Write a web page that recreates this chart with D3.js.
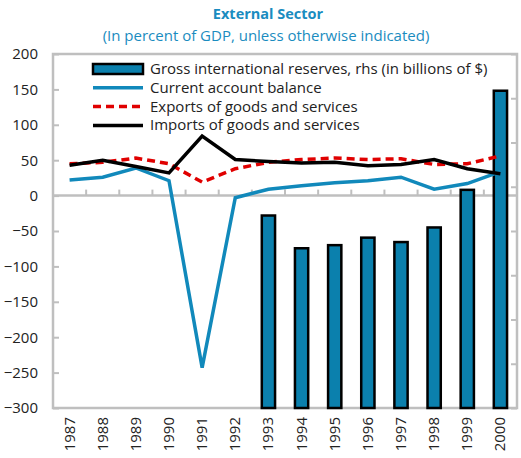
<!DOCTYPE html>
<html>
<head>
<meta charset="utf-8">
<script src="https://cdn.jsdelivr.net/npm/d3@7"></script>
<style>
  body { margin: 0; background: #fff; }
  svg { display: block; font-family: "Open Sans", sans-serif; }
</style>
</head>
<body>
<div id="vis1"></div>
<script>
// data
const YEARS = ["1987","1988","1989","1990","1991","1992","1993","1994","1995","1996","1997","1998","1999","2000"];
const CURRENT_ACCOUNT = [22, 26, 39, 21, -243, -3, 9, 14, 18, 21, 26, 9, 17, 34];
const EXPORTS = [45, 47, 53, 45, 19, 38, 47, 51, 53, 51, 52, 44, 45, 56];
const IMPORTS = [43, 50, 41, 32, 84, 51, 48, 46, 47, 42, 44, 51, 38, 31];
// reserves on the unlabeled right-hand axis (null = no bar)
const RESERVES = [null, null, null, null, null, null, 4.35, 3.61, 3.68, 3.85, 3.75, 4.08, 4.93, 7.17];
const Y_TICKS = [200, 150, 100, 50, 0, -50, -100, -150, -200, -250, -300];
const LEGEND = ["Gross international reserves, rhs (in billions of $)", "Current account balance",
                "Exports of goods and services", "Imports of goods and services"];

const FRAME_WIDTH = 521;
const FRAME_HEIGHT = 458;
const MARGINS = {left: 53, right: 4, top: 54, bottom: 50};
const VIS_WIDTH = FRAME_WIDTH - MARGINS.left - MARGINS.right;
const VIS_HEIGHT = FRAME_HEIGHT - MARGINS.top - MARGINS.bottom;

const TEAL = "#0b80ad";
const LINE_BLUE = "#1189bb";
const GRID = "#bfbfbf";

const FRAME1 = d3.select("#vis1")
  .append("svg")
    .attr("width", FRAME_WIDTH)
    .attr("height", FRAME_HEIGHT);

// title
FRAME1.append("text")
  .attr("x", 268).attr("y", 19)
  .attr("text-anchor", "middle")
  .attr("font-size", "14.5px").attr("font-weight", "bold")
  .attr("fill", "#1a8cc0")
  .text("External Sector");
FRAME1.append("text")
  .attr("x", 266).attr("y", 41)
  .attr("text-anchor", "middle")
  .attr("font-size", "15px")
  .attr("fill", "#1a8cc0")
  .text("(In percent of GDP, unless otherwise indicated)");

const X_SCALE = d3.scaleBand().domain(YEARS).range([0, VIS_WIDTH]);
const Y_SCALE = d3.scaleLinear().domain([-300, 200]).range([VIS_HEIGHT, 0]);
const Y2_SCALE = d3.scaleLinear().domain([0, 8]).range([VIS_HEIGHT, 0]);

const g = FRAME1.append("g")
  .attr("transform", "translate(" + MARGINS.left + "," + MARGINS.top + ")");

// plot box
g.append("rect")
  .attr("x", 0).attr("y", 0)
  .attr("width", VIS_WIDTH).attr("height", VIS_HEIGHT)
  .attr("fill", "none").attr("stroke", GRID).attr("stroke-width", 2.5);

// left axis
const yAxis = g.append("g")
  .call(d3.axisLeft(Y_SCALE).tickValues(Y_TICKS).tickSize(-6).tickPadding(15));
yAxis.select(".domain").remove();
yAxis.selectAll("line").attr("stroke", GRID).attr("stroke-width", 2);
yAxis.selectAll("text").attr("font-size", "15px").attr("fill", "#222")
  .attr("font-family", "Open Sans, sans-serif");

// right axis (ticks only)
const y2Axis = g.append("g")
  .attr("transform", "translate(" + VIS_WIDTH + ",0)")
  .call(d3.axisRight(Y2_SCALE).ticks(8).tickSize(-6).tickFormat(""));
y2Axis.select(".domain").remove();
y2Axis.selectAll("line").attr("stroke", GRID).attr("stroke-width", 2);

// zero line with category ticks
const xAxis = g.append("g")
  .attr("transform", "translate(0," + Y_SCALE(0) + ")");
xAxis.append("line")
  .attr("x1", 0).attr("x2", VIS_WIDTH)
  .attr("stroke", GRID).attr("stroke-width", 2.5);
xAxis.selectAll("tick")
  .data(YEARS.slice(1))
  .enter()
  .append("line")
    .attr("x1", (d) => X_SCALE(d)).attr("x2", (d) => X_SCALE(d))
    .attr("y1", 0).attr("y2", -6)
    .attr("stroke", GRID).attr("stroke-width", 2);

// year labels along the bottom
g.selectAll("yearLabels")
  .data(YEARS)
  .enter()
  .append("text")
    .attr("transform", (d) => "translate(" + (X_SCALE(d) + X_SCALE.bandwidth() / 2 + 5) + "," + (VIS_HEIGHT + 9) + ") rotate(-90)")
    .attr("text-anchor", "end")
    .attr("font-size", "15px").attr("fill", "#222")
    .text((d) => d);

// reserve bars
const barW = X_SCALE.bandwidth() * 0.4;
g.selectAll("bars")
  .data(YEARS.map((y, i) => ({year: y, v: RESERVES[i]})).filter((d) => d.v !== null))
  .enter()
  .append("rect")
    .attr("x", (d) => X_SCALE(d.year) + (X_SCALE.bandwidth() - barW) / 2)
    .attr("y", (d) => Y2_SCALE(d.v))
    .attr("width", barW)
    .attr("height", (d) => VIS_HEIGHT - Y2_SCALE(d.v))
    .attr("fill", TEAL).attr("stroke", "#000").attr("stroke-width", 2.5);

// lines
const cx = (i) => X_SCALE(YEARS[i]) + X_SCALE.bandwidth() / 2;
const lineGen = d3.line().x((d, i) => cx(i)).y((d) => Y_SCALE(d));

g.append("path").datum(CURRENT_ACCOUNT)
  .attr("d", lineGen).attr("fill", "none")
  .attr("stroke", LINE_BLUE).attr("stroke-width", 3.5);
g.append("path").datum(EXPORTS)
  .attr("d", lineGen).attr("fill", "none")
  .attr("stroke", "#e00000").attr("stroke-width", 3.5).attr("stroke-dasharray", "8,5");
g.append("path").datum(IMPORTS)
  .attr("d", lineGen).attr("fill", "none")
  .attr("stroke", "#000").attr("stroke-width", 3.5);

// legend
const legend = FRAME1.append("g").attr("transform", "translate(93,69)");
const rowH = 18.8;
LEGEND.forEach((label, i) => {
  const row = legend.append("g").attr("transform", "translate(0," + (i * rowH) + ")");
  if (i === 0) {
    row.append("rect").attr("x", 0).attr("y", -5).attr("width", 50).attr("height", 10)
      .attr("fill", TEAL).attr("stroke", "#000").attr("stroke-width", 2.5);
  } else {
    const styles = [null, [LINE_BLUE, null], ["#e00000", "8,5"], ["#000", null]][i];
    row.append("line").attr("x1", 0).attr("x2", 50).attr("y1", 0).attr("y2", 0)
      .attr("stroke", styles[0]).attr("stroke-width", 3.5)
      .attr("stroke-dasharray", styles[1]);
  }
  row.append("text")
    .attr("x", 57).attr("y", 5)
    .attr("font-size", "15px").attr("fill", "#222")
    .text(label);
});
</script>
</body>
</html>
